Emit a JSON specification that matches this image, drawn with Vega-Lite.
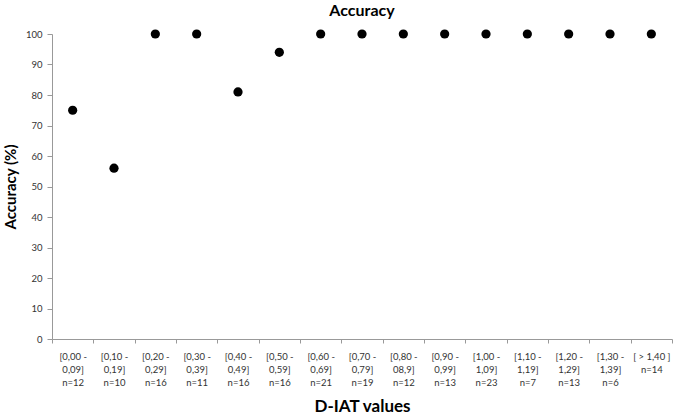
{
  "$schema": "https://vega.github.io/schema/vega-lite/v6.json",
  "width": 620,
  "height": 305,
  "autosize": {"type": "none"},
  "padding": {"left": 52, "top": 34, "right": 8, "bottom": 80},
  "background": "white",
  "title": {"text": "Accuracy", "font": "Lato", "fontSize": 16, "fontWeight": "bold", "color": "#000", "anchor": "middle", "offset": 10},
  "config": {"view": {"stroke": null}, "font": "Lato"},
  "data": {"values": [
    {"bin": "[0,00 -|0,09]|n=12", "acc": 75},
    {"bin": "[0,10 -|0,19]|n=10", "acc": 56},
    {"bin": "[0,20 -|0,29]|n=16", "acc": 100},
    {"bin": "[0,30 -|0,39]|n=11", "acc": 100},
    {"bin": "[0,40 -|0,49]|n=16", "acc": 81},
    {"bin": "[0,50 -|0,59]|n=16", "acc": 94},
    {"bin": "[0,60 -|0,69]|n=21", "acc": 100},
    {"bin": "[0,70 -|0,79]|n=19", "acc": 100},
    {"bin": "[0,80 -|08,9]|n=12", "acc": 100},
    {"bin": "[0,90 -|0,99]|n=13", "acc": 100},
    {"bin": "[1,00 -|1,09]|n=23", "acc": 100},
    {"bin": "[1,10 -|1,19]|n=7", "acc": 100},
    {"bin": "[1,20 -|1,29]|n=13", "acc": 100},
    {"bin": "[1,30 -|1,39]|n=6", "acc": 100},
    {"bin": "[ > 1,40 ]|n=14", "acc": 100}
  ]},
  "mark": {"type": "point", "filled": true, "color": "#000", "size": 85, "opacity": 1},
  "encoding": {
    "x": {
      "field": "bin", "type": "nominal", "sort": null,
      "scale": {"paddingInner": 0, "paddingOuter": 0},
      "axis": {
        "title": "D-IAT values", "titleFont": "Lato", "titleFontSize": 17, "titleFontWeight": "bold", "titleColor": "#000", "titlePadding": 12,
        "labelExpr": "split(datum.label, '|')", "labelAngle": 0, "labelFontSize": 9.5, "labelColor": "#333", "labelLineHeight": 13, "labelPadding": 8, "labelLimit": 0,
        "tickBand": "extent", "tickSize": 4, "tickColor": "#999", "domainColor": "#999", "grid": false
      }
    },
    "y": {
      "field": "acc", "type": "quantitative",
      "scale": {"domain": [0, 100]},
      "axis": {
        "title": "Accuracy (%)", "titleFont": "Lato", "titleFontSize": 15, "titleFontWeight": "bold", "titleColor": "#000", "titlePadding": 7,
        "values": [0, 10, 20, 30, 40, 50, 60, 70, 80, 90, 100],
        "labelFontSize": 9.5, "labelColor": "#333", "labelPadding": 5, "tickSize": 5, "tickColor": "#999", "domainColor": "#999", "grid": false
      }
    }
  }
}
